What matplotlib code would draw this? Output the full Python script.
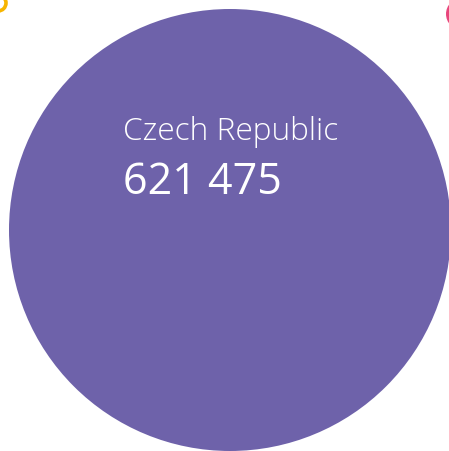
import matplotlib.pyplot as plt
from matplotlib.patches import Circle

# bubble data
countries = ["Czech Republic"]
values = [621475]
labels = ["621 475"]

W, H = 449, 452
fig = plt.figure(figsize=(W / 100, H / 100), dpi=100)
ax = fig.add_axes([0, 0, 1, 1])
ax.set_xlim(0, W)
ax.set_ylim(H, 0)
ax.set_aspect("equal")
ax.axis("off")

# main bubble
ax.add_patch(Circle((230, 231), 221, color="#6e62aa", lw=0))
# neighbouring bubbles, mostly cut off
ax.add_patch(Circle((-2, 4), 8, fill=False, ec="#f7b500", lw=2.6))
ax.add_patch(Circle((462, 15), 16, color="#e8467c", lw=0))

ax.text(123, 140, countries[0], color="white", fontsize=22.8, family="Open Sans",
        fontweight="light", va="baseline", ha="left")
# digits are narrow in the original, shrink a bit to keep the width
ax.text(123, 194, labels[0], color="white", fontsize=31, family="Open Sans",
        va="baseline", ha="left")

fig.savefig("out.png", dpi=100)
